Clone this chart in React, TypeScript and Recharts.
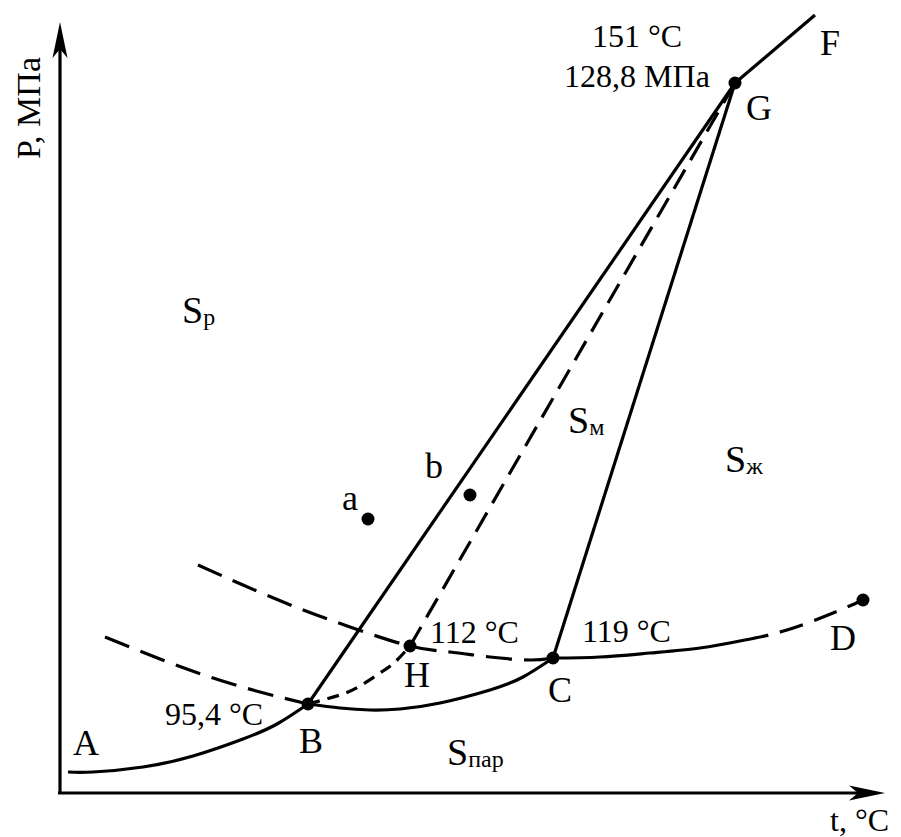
import React from 'react'
import { ComposedChart, Line, Scatter, XAxis, YAxis } from 'recharts'

type Pt = { x: number; y: number }

// Schematic sulfur diagram, diagram units: x = t, y = P (origin at the axes corner)
const curveAB: Pt[] = [
  { x: 8, y: 21 }, { x: 33, y: 21 }, { x: 83, y: 26 }, { x: 133, y: 37 },
  { x: 183, y: 54 }, { x: 217, y: 69 }, { x: 248, y: 89 },
]
const curveBC: Pt[] = [
  { x: 248, y: 89 }, { x: 280, y: 85 }, { x: 310, y: 83 },
  { x: 340, y: 84 }, { x: 380, y: 90 }, { x: 430, y: 103 }, { x: 463, y: 116 }, { x: 493, y: 135 },
]
const curveCDsolid: Pt[] = [
  { x: 493, y: 135 }, { x: 540, y: 136 }, { x: 590, y: 140 }, { x: 640, y: 145 }, { x: 685, y: 153 },
]
const curveCDdashed: Pt[] = [
  { x: 685, y: 153 }, { x: 727, y: 163 }, { x: 773, y: 180 }, { x: 803, y: 193 },
]
const lineBG: Pt[] = [{ x: 248, y: 89 }, { x: 675, y: 710 }]
const lineCG: Pt[] = [{ x: 493, y: 135 }, { x: 675, y: 710 }]
const lineGF: Pt[] = [{ x: 675, y: 710 }, { x: 755, y: 778 }]
const lineHG: Pt[] = [{ x: 350, y: 147 }, { x: 675, y: 710 }]
const curveBH: Pt[] = [
  { x: 248, y: 89 }, { x: 280, y: 98 }, { x: 300, y: 107 },
  { x: 320, y: 120 }, { x: 335, y: 131 }, { x: 350, y: 147 },
]
const metaLower: Pt[] = [
  { x: 45, y: 156 }, { x: 100, y: 134 }, { x: 150, y: 116 }, { x: 200, y: 101 }, { x: 248, y: 89 },
]
const metaUpper: Pt[] = [
  { x: 138, y: 228 }, { x: 183, y: 208 }, { x: 233, y: 187 }, { x: 290, y: 166 }, { x: 350, y: 147 },
  { x: 390, y: 141 }, { x: 430, y: 136 }, { x: 470, y: 133 }, { x: 493, y: 135 },
]
const points: Pt[] = [
  { x: 248, y: 89 }, { x: 350, y: 147 }, { x: 493, y: 135 }, { x: 803, y: 193 },
  { x: 675, y: 710 }, { x: 308, y: 274 }, { x: 410, y: 298 },
]
const axisT: Pt[] = [{ x: -2, y: 0 }, { x: 815, y: 0 }]
const axisP: Pt[] = [{ x: 0, y: -1 }, { x: 0, y: 760 }]
const arrows = [
  { x: 825, y: 0, dir: 'right' },
  { x: 0, y: 771, dir: 'up' },
]

type Lbl = { x: number; y: number; text: string; sub?: string; kind: string }
const labels: Lbl[] = [
  { x: 26, y: 38, text: 'A', kind: 'letter' },
  { x: 251, y: 40, text: 'B', kind: 'letter' },
  { x: 357, y: 106, text: 'H', kind: 'letter' },
  { x: 500, y: 91, text: 'C', kind: 'letter' },
  { x: 783, y: 143, text: 'D', kind: 'letter' },
  { x: 699, y: 673, text: 'G', kind: 'letter' },
  { x: 770, y: 738, text: 'F', kind: 'letter' },
  { x: 290, y: 283, text: 'a', kind: 'letter' },
  { x: 374, y: 315, text: 'b', kind: 'letter' },
  { x: 105, y: 68, text: '95,4 °C', kind: 'value' },
  { x: 370, y: 150, text: '112 °C', kind: 'value' },
  { x: 522, y: 151, text: '119 °C', kind: 'value' },
  { x: 577, y: 746, text: '151 °C', kind: 'valueMid' },
  { x: 577, y: 706, text: '128,8 МПа', kind: 'valueMid' },
  { x: 122, y: 470, text: 'S', sub: 'р', kind: 'phase' },
  { x: 508, y: 360, text: 'S', sub: 'м', kind: 'phase' },
  { x: 665, y: 321, text: 'S', sub: 'ж', kind: 'phase' },
  { x: 387, y: 28, text: 'S', sub: 'пар', kind: 'phase' },
  { x: 770, y: -38, text: 't, °C', kind: 'value' },
  { x: -32, y: 685, text: 'P, МПа', kind: 'axisP' },
]

const FONT = '"Liberation Serif", "Times New Roman", serif'

const renderLabel = (props: any) => {
  const { cx, cy, payload } = props
  const l: Lbl = payload
  if (l.kind === 'axisP') {
    return (
      <text x={cx} y={cy} transform={`rotate(-90 ${cx} ${cy})`} textAnchor="middle" dominantBaseline="central"
        fontFamily={FONT} fontSize={34} fill="#000">{l.text}</text>
    )
  }
  if (l.kind === 'phase') {
    return (
      <text x={cx} y={cy} fontFamily={FONT} fontSize={38} fill="#000">
        {l.text}<tspan fontSize={24} dy={2}>{l.sub}</tspan>
      </text>
    )
  }
  const size = l.kind === 'letter' ? 36 : 32
  const anchor = l.kind === 'letter' || l.kind === 'valueMid' ? 'middle' : 'start'
  return (
    <text x={cx} y={cy} textAnchor={anchor} fontFamily={FONT} fontSize={size} fill="#000">{l.text}</text>
  )
}

const renderArrow = (props: any) => {
  const { cx, cy, payload } = props
  const d = payload.dir === 'right'
    ? `M${cx},${cy} L${cx - 36},${cy - 7.5} L${cx - 27},${cy} L${cx - 36},${cy + 7.5} Z`
    : `M${cx},${cy} L${cx - 7.5},${cy + 36} L${cx},${cy + 27} L${cx + 7.5},${cy + 36} Z`
  return <path d={d} fill="#000" />
}

const renderDot = (props: any) => <circle cx={props.cx} cy={props.cy} r={6.5} fill="#000" />

const solid = { stroke: '#000', strokeWidth: 3.2, dot: false, isAnimationActive: false, dataKey: 'y' }

export default function App() {
  return (
    <div style={{ position: 'absolute', left: 0, top: 0, background: '#fff' }}>
      <ComposedChart width={901} height={837} margin={{ top: 0, right: 0, bottom: 0, left: 0 }}>
        <XAxis type="number" dataKey="x" domain={[-60, 841]} allowDataOverflow hide />
        <YAxis type="number" dataKey="y" domain={[-44, 793]} allowDataOverflow hide />
        <Line data={axisT} type="linear" {...solid} />
        <Line data={axisP} type="linear" {...solid} />
        <Line data={curveAB} type="natural" {...solid} />
        <Line data={curveBC} type="natural" {...solid} />
        <Line data={curveCDsolid} type="natural" {...solid} />
        <Line data={curveCDdashed} type="natural" {...solid} strokeDasharray="24 12" />
        <Line data={lineBG} type="linear" {...solid} />
        <Line data={lineCG} type="linear" {...solid} />
        <Line data={lineGF} type="linear" {...solid} />
        <Line data={lineHG} type="linear" {...solid} strokeDasharray="22 11" />
        <Line data={curveBH} type="natural" {...solid} strokeDasharray="12 8" />
        <Line data={metaLower} type="natural" {...solid} strokeDasharray="26 12" />
        <Line data={metaUpper} type="natural" {...solid} strokeDasharray="26 12" />
        <Scatter data={points} dataKey="y" shape={renderDot} isAnimationActive={false} />
        <Scatter data={arrows} dataKey="y" shape={renderArrow} isAnimationActive={false} />
        <Scatter data={labels} dataKey="y" shape={renderLabel} isAnimationActive={false} />
      </ComposedChart>
    </div>
  )
}
